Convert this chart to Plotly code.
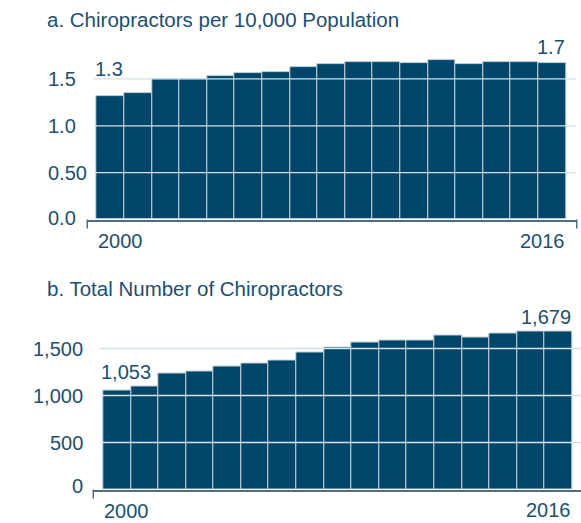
import plotly.graph_objects as go

# ---------------- data ----------------
years = list(range(2000, 2017))
per_10k = [1.32, 1.35, 1.50, 1.50, 1.53, 1.56, 1.57, 1.63, 1.66, 1.68,
           1.68, 1.67, 1.70, 1.66, 1.68, 1.68, 1.67]
total = [1053, 1098, 1229, 1251, 1304, 1340, 1375, 1457, 1514, 1567,
         1585, 1581, 1634, 1620, 1656, 1677, 1679]

title_a = "a. Chiropractors per 10,000 Population"
title_b = "b. Total Number of Chiropractors"
ticks_a = [0, 0.5, 1.0, 1.5]
ticklabels_a = ["0.0", "0.50", "1.0", "1.5"]
ticks_b = [0, 500, 1000, 1500]
ticklabels_b = ["0", "500", "1,000", "1,500"]
first_label_a, last_label_a = "1.3", "1.7"
first_label_b, last_label_b = "1,053", "1,679"

# ---------------- style ----------------
W, H = 581, 523
BAR = "#00466a"
SEP = "#c3cfd7"
TEXT = "#1d4f70"
GRID = "#d3e3e9"
AXIS = "#4f6d80"
FONT = "Liberation Sans"
FS = 20

fig = go.Figure()
fig.add_trace(go.Bar(x=years, y=per_10k, xaxis="x", yaxis="y",
                     marker=dict(color=BAR, line=dict(color=SEP, width=1)),
                     hoverinfo="x+y"))
fig.add_trace(go.Bar(x=years, y=total, xaxis="x2", yaxis="y2",
                     marker=dict(color=BAR, line=dict(color=SEP, width=1)),
                     hoverinfo="x+y"))

axis_common = dict(showgrid=False, zeroline=False, showticklabels=False, ticks="", fixedrange=True)

fig.update_layout(
    width=W, height=H,
    margin=dict(l=0, r=0, t=0, b=0),
    paper_bgcolor="white", plot_bgcolor="white",
    showlegend=False, bargap=0,
    font=dict(family=FONT, size=FS, color=TEXT),
    xaxis=dict(domain=[87.3 / W, 576.7 / W], range=[1999.16, 2016.89], anchor="y",
               showline=True, linecolor=AXIS, linewidth=1.5, **axis_common),
    yaxis=dict(domain=[1 - 219.5 / H, 1 - 32.1 / H], range=[0, 2.0], anchor="x", **axis_common),
    xaxis2=dict(domain=[93.3 / W, 1.0], range=[1999.14, 2016.82], anchor="y2",
                showline=True, linecolor=AXIS, linewidth=1.5, **axis_common),
    yaxis2=dict(domain=[1 - 489.5 / H, 1 - 301.5 / H], range=[0, 2000], anchor="x2", **axis_common),
)

shapes = []
# gridlines drawn above the bars
for v in ticks_a[1:]:
    shapes.append(dict(type="line", layer="above", xref="x domain", yref="y",
                       x0=0.012, x1=1, y0=v, y1=v, line=dict(color=GRID, width=1.3)))
for v in ticks_b[1:]:
    shapes.append(dict(type="line", layer="above", xref="x2 domain", yref="y2",
                       x0=0.014, x1=1, y0=v, y1=v, line=dict(color=GRID, width=1.3)))
# axis end ticks
for xd, yr, hpx in [(0, "y", 187.4), (1, "y", 187.4), (0, "y2", 188.0)]:
    xr = "x domain" if yr == "y" else "x2 domain"
    shapes.append(dict(type="line", layer="above", xref=xr, yref=yr + " domain",
                       x0=xd, x1=xd, y0=0, y1=-9 / hpx, line=dict(color=AXIS, width=1.5)))
fig.update_layout(shapes=shapes)

ann = []
def add(text, size=FS, **kw):
    d = dict(text=text, showarrow=False, font=dict(family=FONT, size=size, color=TEXT), borderpad=0)
    d.update(kw)
    ann.append(d)

# titles
add(title_a, size=20.5, xref="paper", yref="paper", x=46 / W, y=1 - 19.5 / H, xanchor="left", yanchor="middle")
add(title_b, size=20.5, xref="paper", yref="paper", x=46 / W, y=1 - 288.5 / H, xanchor="left", yanchor="middle")

# y tick labels
for v, t in zip(ticks_a, ticklabels_a):
    add(t, xref="paper", yref="y", x=47 / W, y=v, xanchor="left", yanchor="middle",
        yshift=2 if v == 0 else 0)
for v, t in zip(ticks_b, ticklabels_b):
    add(t, xref="paper", yref="y2", x=83.5 / W, y=v, xanchor="right", yanchor="middle",
        yshift=4 if v == 0 else 0)

# year labels
add(str(years[0]), xref="x", yref="y", x=years[0] - 0.5, y=0, xanchor="left", yanchor="middle", yshift=-21)
add(str(years[-1]), xref="x", yref="y", x=years[-1] + 0.5, y=0, xanchor="right", yanchor="middle", yshift=-21)
add(str(years[0]), xref="x2", yref="y2", x=years[0] - 0.5, y=0, xanchor="left", yanchor="middle", yshift=-21)
add(str(years[-1]), xref="x2", yref="y2", x=years[-1] + 0.5, y=0, xanchor="right", yanchor="middle", yshift=-20)

# value labels
add(first_label_a, xref="x", yref="y", x=years[0] - 0.5, y=per_10k[0], xanchor="left", yanchor="middle",
    xshift=-3, yshift=27)
add(last_label_a, xref="x", yref="y", x=years[-1] + 0.5, y=per_10k[-1], xanchor="right", yanchor="middle",
    yshift=16)
add(first_label_b, xref="x2", yref="y2", x=years[0] - 0.5, y=total[0], xanchor="left", yanchor="middle",
    xshift=-3, yshift=19)
add(last_label_b, xref="x2", yref="y2", x=years[-1] + 0.5, y=total[-1], xanchor="right", yanchor="middle",
    yshift=15)

fig.update_layout(annotations=ann)
fig.write_html("out.html", config={"displayModeBar": False},
               post_script="document.body.style.margin='0';document.body.style.overflow='hidden';")
